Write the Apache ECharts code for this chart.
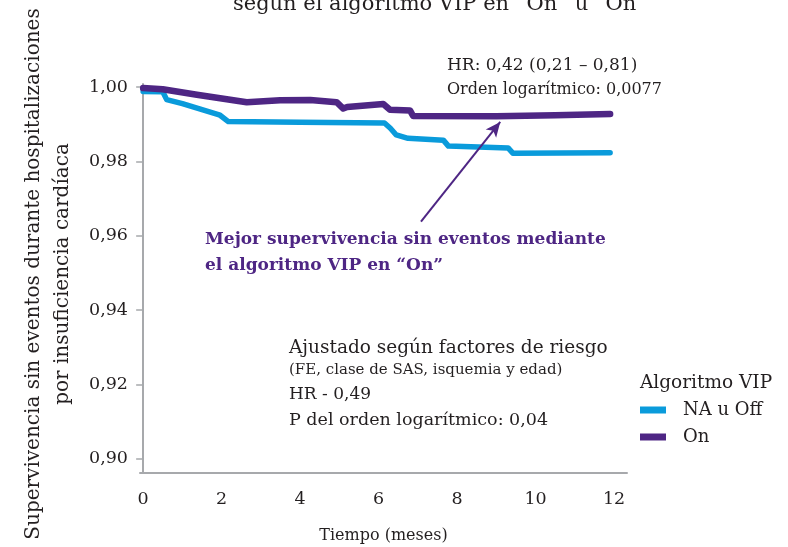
<!DOCTYPE html>
<html>
<head>
<meta charset="utf-8">
<script src="https://cdn.jsdelivr.net/npm/echarts@6/dist/echarts.min.js"></script>
<style>
html,body{margin:0;padding:0;background:#fff;}
#c{width:788px;height:547px;}
</style>
</head>
<body>
<div id="c"></div>
<script>
// ---- data ----
var monthsOn  = [0, 0.5, 1.37, 2.64, 3.49, 4.26, 4.93, 5.1, 5.2, 6.12, 6.29, 6.8, 6.88, 9.0, 10.5, 11.9];
var valuesOn  = [0.9997, 0.9994, 0.9979, 0.9959, 0.9964, 0.9965, 0.9959, 0.9942, 0.9946, 0.9954, 0.9939, 0.9937, 0.9922, 0.9921, 0.9924, 0.9927];
var monthsOff = [0, 0.5, 0.6, 1.0, 1.96, 2.17, 4.0, 6.15, 6.3, 6.45, 6.75, 7.65, 7.78, 9.3, 9.42, 11.9];
var valuesOff = [0.9988, 0.9987, 0.9966, 0.9955, 0.9924, 0.9907, 0.9905, 0.9903, 0.9889, 0.9871, 0.9862, 0.9857, 0.9841, 0.9836, 0.9822, 0.9823];
var xTicks = [0, 2, 4, 6, 8, 10, 12];
var yTicks = [0.90, 0.92, 0.94, 0.96, 0.98, 1.00];
var seriesNames = ['NA u Off', 'On'];
var seriesColors = ['#0a9bdb', '#4e2684'];

function pairs(xs, ys){ return xs.map(function(x,i){ return [x, ys[i]]; }); }

var FONT = '"DejaVu Serif", serif';
var TXT = '#231f20';

var chart = echarts.init(document.getElementById('c'));
chart.setOption({
  animation: false,
  backgroundColor: '#fff',
  grid: {left: 140, right: 161, top: 84, bottom: 74, containLabel: false, outerBoundsMode: 'none'},
  xAxis: {
    type: 'value', min: -0.08, max: 12.33,
    axisLine: {show: true, lineStyle: {color: '#a7a9ac', width: 2}},
    axisTick: {show: false},
    splitLine: {show: false},
    axisLabel: {customValues: xTicks, margin: 17, fontFamily: FONT, fontSize: 17.5, color: TXT},
    name: 'Tiempo (meses)', nameLocation: 'middle', nameGap: 55,
    nameTextStyle: {fontFamily: FONT, fontSize: 16, color: TXT}
  },
  yAxis: {
    type: 'value', min: 0.8962, max: 1.0008,
    axisLine: {show: true, lineStyle: {color: '#a7a9ac', width: 2}},
    axisTick: {show: true, customValues: yTicks, length: 7, lineStyle: {color: '#a7a9ac', width: 1.5}},
    splitLine: {show: false},
    axisLabel: {customValues: yTicks, margin: 12, fontFamily: FONT, fontSize: 17.5, color: TXT,
      formatter: function(v){ return v.toFixed(2).replace('.', ','); }}
  },
  legend: {
    orient: 'vertical', left: 640, top: 401, padding: 0, itemGap: 9,
    itemWidth: 26, itemHeight: 7, icon: 'rect',
    textStyle: {fontFamily: FONT, fontSize: 18, color: TXT, padding: [0,0,0,12]},
    data: seriesNames
  },
  series: [
    {
      name: seriesNames[0], type: 'line', data: pairs(monthsOff, valuesOff),
      showSymbol: false, symbol: 'none', color: seriesColors[0],
      lineStyle: {width: 5.5, color: seriesColors[0], cap: 'round', join: 'round'}
    },
    {
      name: seriesNames[1], type: 'line', data: pairs(monthsOn, valuesOn),
      showSymbol: false, symbol: 'none', color: seriesColors[1],
      lineStyle: {width: 6.5, color: seriesColors[1], cap: 'round', join: 'round'},
      markLine: {
        silent: true, symbol: ['none', 'arrow'], symbolSize: [10, 15],
        label: {show: false},
        lineStyle: {color: seriesColors[1], width: 2, type: 'solid'},
        data: [[{coord: [7.08, 0.9638]}, {coord: [9.1, 0.9906]}]]
      }
    }
  ],
  graphic: [
    {type: 'text', x: 440, y: 15, style: {text: 'según el algoritmo VIP en “On” u “On”', font: '21px ' + FONT, fill: TXT, align: 'center', verticalAlign: 'bottom'}},
    {type: 'text', x: 48, y: 274, rotation: Math.PI / 2,
      style: {text: 'Supervivencia sin eventos durante hospitalizaciones\npor insuficiencia cardíaca', font: '20px ' + FONT, lineHeight: 29, fill: TXT, align: 'center', verticalAlign: 'middle'}},
    {type: 'text', x: 447, y: 66, style: {text: 'HR: 0,42 (0,21 – 0,81)', font: '17px ' + FONT, fill: TXT, verticalAlign: 'middle'}},
    {type: 'text', x: 447, y: 90, style: {text: 'Orden logarítmico: 0,0077', font: '16px ' + FONT, fill: TXT, verticalAlign: 'middle'}},
    {type: 'text', x: 205, y: 240, style: {text: 'Mejor supervivencia sin eventos mediante', font: 'bold 17px ' + FONT, fill: seriesColors[1], verticalAlign: 'middle'}},
    {type: 'text', x: 205, y: 266, style: {text: 'el algoritmo VIP en “On”', font: 'bold 17px ' + FONT, fill: seriesColors[1], verticalAlign: 'middle'}},
    {type: 'text', x: 289, y: 348, style: {text: 'Ajustado según factores de riesgo', font: '18.5px ' + FONT, fill: TXT, verticalAlign: 'middle'}},
    {type: 'text', x: 289, y: 370, style: {text: '(FE, clase de SAS, isquemia y edad)', font: '15px ' + FONT, fill: TXT, verticalAlign: 'middle'}},
    {type: 'text', x: 289, y: 395, style: {text: 'HR - 0,49', font: '17px ' + FONT, fill: TXT, verticalAlign: 'middle'}},
    {type: 'text', x: 289, y: 420, style: {text: 'P del orden logarítmico: 0,04', font: '17.5px ' + FONT, fill: TXT, verticalAlign: 'middle'}},
    {type: 'text', x: 640, y: 383, style: {text: 'Algoritmo VIP', font: '18.5px ' + FONT, fill: TXT, verticalAlign: 'middle'}}
  ]
});
</script>
</body>
</html>
